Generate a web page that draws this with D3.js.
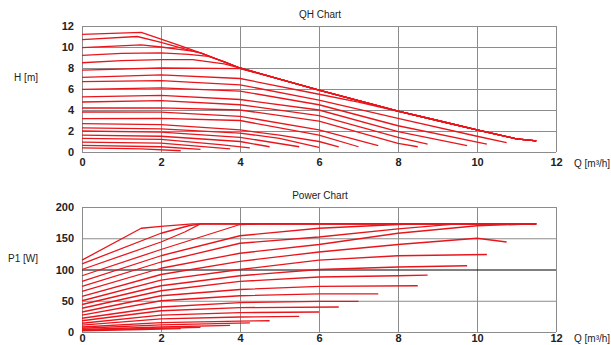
<!DOCTYPE html>
<html>
<head>
<meta charset="utf-8">
<script src="https://cdn.jsdelivr.net/npm/d3@7"></script>
<style>
  body { margin: 0; background: #fff; }
  svg text { font-family: "Liberation Sans", Arial, sans-serif; fill: #222; }
  .tick text { font-size: 11px; font-weight: bold; }
  .grid .tick line { stroke: #8c8c8c; stroke-width: 1; }
  .curve { fill: none; stroke: #e8161c; stroke-width: 1.3; stroke-linejoin: round; }
</style>
</head>
<body>
<div id="chart"></div>
<script>
// x ticks shared by both charts
const qTicks = [0, 2, 4, 6, 8, 10, 12];
const hTicks = [0, 2, 4, 6, 8, 10, 12];
const pTicks = [0, 50, 100, 150, 200];

// QH: limiting curve that the top speeds run into
const qhEnvelope = [[3, 9.45], [4, 8.0], [5, 6.95], [6, 5.9], [7, 4.9], [8, 3.9], [9, 3.0], [10, 2.1], [11, 1.25], [11.5, 1.05]];

// QH: start of each speed curve (Q, H), joined to the envelope for the top ones
const qhHeads = [
  [[0, 11.2], [1.5, 11.4], [2, 10.75], [2.5, 10.1]],
  [[0, 10.7], [1.4, 11.0], [2, 10.45], [2.8, 9.6]],
  [[0, 9.94], [1.5, 10.2], [2, 10.0], [2.8, 9.6]],
  [[0, 9.2], [1, 9.4], [2, 9.45], [2.7, 9.3], [3.2, 9.1], [3.6, 8.6]],
  [[0, 8.5], [1, 8.7], [2, 8.8], [2.8, 8.8], [3.6, 8.4], [4.2, 7.8]],
  [[0, 7.8], [2, 8.0], [4, 7.95], [4.6, 7.35]],
  [[0, 7.1], [2, 7.35], [4, 7.0], [6, 5.5], [7, 4.75], [8.5, 3.45]]
];

// QH: lower speed curves, not reaching the envelope
const qhLower = [
  [[0, 6.7], [2, 6.8], [4, 6.4], [6, 4.95], [8, 3.2], [10, 1.5], [10.75, 0.9]],
  [[0, 5.96], [2, 6.1], [4, 5.8], [6, 4.5], [8, 2.5], [10.25, 0.76]],
  [[0, 5.25], [2, 5.4], [4, 5.0], [6, 4.0], [8, 1.94], [9.75, 0.6]],
  [[0, 4.76], [2, 4.9], [4, 4.5], [6, 3.46], [8, 1.4], [8.75, 0.76]],
  [[0, 4.19], [2, 4.2], [4, 4.0], [6, 2.95], [8, 0.83], [8.5, 0.5]],
  [[0, 3.81], [2, 3.8], [4, 3.4], [6, 2.1], [7.5, 0.6]],
  [[0, 3.17], [2, 3.2], [4, 3.0], [6, 1.6], [7, 0.5]],
  [[0, 2.7], [2, 2.6], [4, 2.1], [5, 1.6], [6, 1.0], [6.5, 0.48]],
  [[0, 2.3], [2, 2.2], [4, 1.8], [5, 1.3], [6, 0.45]],
  [[0, 2.0], [2, 1.9], [4, 1.4], [5.5, 0.5]],
  [[0, 1.6], [2, 1.5], [4, 1.0], [4.75, 0.5]],
  [[0, 1.3], [2, 1.2], [3.5, 0.7], [4.25, 0.4]],
  [[0, 0.95], [2, 0.85], [3.75, 0.3]],
  [[0, 0.64], [2, 0.5], [3, 0.25]],
  [[0, 0.4], [1.5, 0.3], [2.5, 0.12]]
];

// Power: P1 [W] against Q for the same speeds
const powerCurves = [
  [[0, 115], [1.5, 166], [2, 169], [2.8, 173], [11.5, 173]],
  [[0, 109], [2, 158], [2.7, 170], [3, 173], [11.5, 173]],
  [[0, 100], [2, 144], [2.6, 160], [3, 173], [11.5, 173]],
  [[0, 90], [2, 132], [3, 152], [4, 172], [4.5, 173], [11.5, 173]],
  [[0, 81], [2, 122], [4, 154], [6, 166], [8, 172], [8.5, 173], [11.5, 173]],
  [[0, 73], [2, 112], [4, 142], [6, 152], [8, 165], [9.5, 173], [11.5, 173]],
  [[0, 65], [2, 102], [4, 126], [6, 140], [8, 158], [10, 170], [11.5, 173]],
  [[0, 57], [2, 92], [4, 113], [6, 128], [8, 140], [10, 150], [10.75, 144]],
  [[0, 50], [2, 83], [4, 100], [6, 115], [8, 122], [10.25, 124]],
  [[0, 44], [2, 74], [4, 90], [6, 100], [8, 104], [9.75, 106]],
  [[0, 38], [2, 66], [4, 81], [6, 88], [8, 90], [8.75, 91]],
  [[0, 32], [2, 58], [4, 68], [6, 73], [8.5, 74]],
  [[0, 27], [2, 50], [4, 58], [6, 61], [7.5, 61]],
  [[0, 22], [2, 40], [4, 47], [6, 49], [7, 49]],
  [[0, 18], [2, 34], [4, 39], [6.5, 40]],
  [[0, 14], [2, 27], [4, 31], [6, 32]],
  [[0, 11], [2, 21], [4, 24], [5.5, 25]],
  [[0, 8], [2, 15], [4, 17.5], [4.75, 18]],
  [[0, 6], [2, 11.5], [4.25, 14.5]],
  [[0, 4], [2, 8], [3.75, 10.7]],
  [[0, 3], [2, 6], [3, 7.5]],
  [[0, 2], [1.5, 4], [2.5, 5.3]]
];

const width = 611, height = 345;
const left = 82, right = 556;

const svg = d3.select("#chart").append("svg")
    .attr("width", width)
    .attr("height", height);

const x = d3.scaleLinear().domain([0, 12]).range([left, right]);
const yH = d3.scaleLinear().domain([0, 12]).range([152, 26]);
const yP = d3.scaleLinear().domain([0, 200]).range([332, 207]);

function drawPanel(y, yTicks, title, yLabel, curves, darkValue, xPad, qLabelDy) {
    const top = y.range()[1], bottom = y.range()[0];
    const g = svg.append("g");

    // vertical grid + x tick labels
    g.append("g")
        .attr("class", "grid")
        .attr("transform", "translate(0," + bottom + ")")
        .call(d3.axisBottom(x).tickValues(qTicks).tickSize(-(bottom - top)).tickPadding(xPad).tickFormat(d3.format("d")))
        .call(a => a.select(".domain").remove());

    // horizontal grid + y tick labels
    g.append("g")
        .attr("class", "grid")
        .attr("transform", "translate(" + left + ",0)")
        .call(d3.axisLeft(y).tickValues(yTicks).tickSize(-(right - left)).tickPadding(8).tickFormat(d3.format("d")))
        .call(a => a.select(".domain").remove())
        .call(a => a.selectAll(".tick line")
            .filter(d => d === darkValue)
            .style("stroke", "#000"));

    const ly = d3.line().x(d => x(d[0])).y(d => y(d[1]));
    g.selectAll(".curve")
        .data(curves)
        .enter().append("path")
        .attr("class", "curve")
        .attr("d", ly);

    g.append("text")
        .attr("x", 320)
        .attr("y", top - 8)
        .attr("text-anchor", "middle")
        .style("font-size", "10px")
        .text(title);

    g.append("text")
        .attr("x", 38)
        .attr("y", (top + bottom) / 2 - 8)
        .attr("text-anchor", "end")
        .style("font-size", "10px")
        .text(yLabel);

    g.append("text")
        .attr("x", 574)
        .attr("y", bottom + qLabelDy)
        .style("font-size", "10px")
        .text("Q [m³/h]");
}

// QH curves: top speeds continue along the envelope after their head
const qhCurves = qhHeads.map(head => {
    const lastQ = head[head.length - 1][0];
    return head.concat(qhEnvelope.filter(p => p[0] > lastQ));
}).concat(qhLower);

drawPanel(yH, hTicks, "QH Chart", "H [m]", qhCurves, null, 6, 15);
drawPanel(yP, pTicks, "Power Chart", "P1 [W]", powerCurves, 100, 2, 10);
</script>
</body>
</html>
